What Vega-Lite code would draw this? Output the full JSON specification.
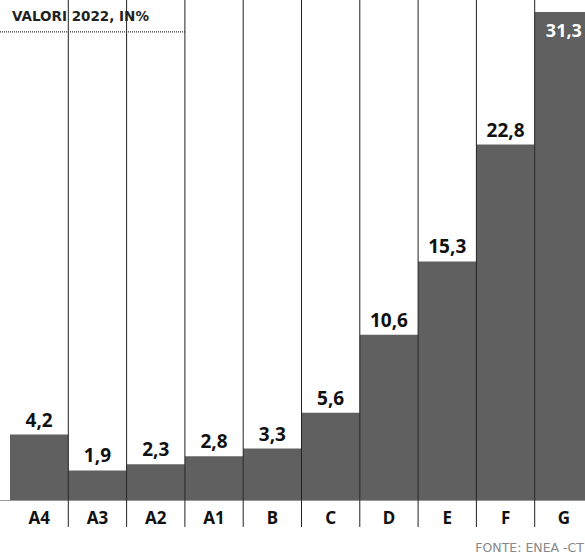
{
  "$schema": "https://vega.github.io/schema/vega-lite/v6.json",
  "width": 585,
  "height": 500,
  "autosize": {"type": "none"},
  "padding": {"left": 0, "top": 0, "right": 0, "bottom": 56},
  "config": {
    "view": {"stroke": null},
    "locale": {"number": {"decimal": ",", "thousands": ".", "grouping": [3], "currency": ["€", ""]}}
  },
  "title": {
    "text": "FONTE: ENEA -CT",
    "orient": "bottom",
    "anchor": "end",
    "frame": "group",
    "dx": -1,
    "offset": 15,
    "font": "DejaVu Sans",
    "fontSize": 12.5,
    "fontWeight": "normal",
    "color": "#888888"
  },
  "data": {
    "values": [
      {"classe": "A4", "valore": 4.2},
      {"classe": "A3", "valore": 1.9},
      {"classe": "A2", "valore": 2.3},
      {"classe": "A1", "valore": 2.8},
      {"classe": "B", "valore": 3.3},
      {"classe": "C", "valore": 5.6},
      {"classe": "D", "valore": 10.6},
      {"classe": "E", "valore": 15.3},
      {"classe": "F", "valore": 22.8},
      {"classe": "G", "valore": 31.3}
    ]
  },
  "encoding": {
    "x": {
      "field": "classe",
      "type": "nominal",
      "sort": null,
      "scale": {"range": [0, 603], "paddingInner": 0, "paddingOuter": 0.1715},
      "axis": {
        "title": null,
        "labelAngle": 0,
        "labelFont": "Noto Sans",
        "labelFontWeight": "bold",
        "labelFontSize": 17,
        "labelColor": "#111111",
        "labelPadding": 10,
        "ticks": false,
        "domainColor": "#333333",
        "domainDash": [1, 1],
        "domainWidth": 1.2
      }
    }
  },
  "layer": [
    {
      "mark": {"type": "bar", "color": "#606060"},
      "encoding": {
        "y": {"field": "valore", "type": "quantitative", "scale": {"domain": [0, 32.07], "nice": false}, "axis": null}
      }
    },
    {
      "transform": [{"filter": "datum.classe != 'A4'"}],
      "mark": {"type": "rule", "color": "#222222", "strokeWidth": 1},
      "encoding": {
        "x": {"field": "classe", "type": "nominal", "sort": null, "bandPosition": 0},
        "y": {"datum": 32.07, "type": "quantitative"},
        "y2": {"datum": -1.73}
      }
    },
    {
      "transform": [{"filter": "datum.classe != 'G'"}],
      "mark": {"type": "text", "baseline": "alphabetic", "dy": -8, "font": "Noto Sans", "fontWeight": "bold", "fontSize": 19, "color": "#111111"},
      "encoding": {
        "y": {"field": "valore", "type": "quantitative"},
        "text": {"field": "valore", "type": "quantitative", "format": ".1f"}
      }
    },
    {
      "transform": [{"filter": "datum.classe == 'G'"}],
      "mark": {"type": "text", "baseline": "alphabetic", "dy": 25, "font": "Noto Sans", "fontWeight": "bold", "fontSize": 18, "color": "#ffffff"},
      "encoding": {
        "y": {"field": "valore", "type": "quantitative"},
        "text": {"field": "valore", "type": "quantitative", "format": ".1f"}
      }
    },
    {
      "data": {"values": [{"t": "VALORI 2022, IN%"}]},
      "mark": {"type": "text", "align": "left", "baseline": "middle", "dx": 2, "font": "DejaVu Sans", "fontWeight": "bold", "fontSize": 13.5, "color": "#222222"},
      "encoding": {
        "x": {"datum": "A4", "bandPosition": 0},
        "y": {"datum": 30.95, "type": "quantitative"},
        "text": {"field": "t", "type": "nominal"}
      }
    },
    {
      "data": {"values": [{"t": "box"}]},
      "mark": {"type": "rule", "color": "#333333", "strokeWidth": 1.2, "strokeDash": [1, 1]},
      "encoding": {
        "x": {"datum": "A4", "bandPosition": -0.1715},
        "x2": {"datum": "A1", "bandPosition": 0},
        "y": {"datum": 30.02, "type": "quantitative"}
      }
    }
  ]
}
